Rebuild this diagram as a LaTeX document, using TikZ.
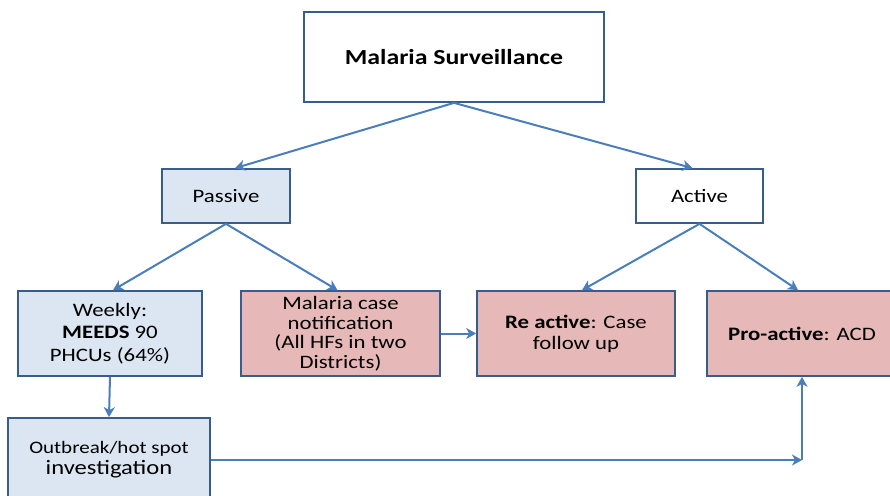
\documentclass[tikz,border=0pt]{standalone}
\usepackage{fontspec}
\setmainfont{Carlito}[FakeStretch=1.2]
\usetikzlibrary{arrows.meta,calc}
\definecolor{bord}{HTML}{385D8A}
\definecolor{arr}{HTML}{4A7EBB}
\definecolor{lblue}{HTML}{DCE6F2}
\definecolor{pinkbox}{HTML}{E6B9B8}
\tikzset{
  box/.style={draw=bord, line width=1.7pt, rectangle, align=center, inner sep=0pt,
    font=\fontsize{19}{21}\selectfont},
  conn/.style={draw=arr, line width=2pt, -{Stealth[length=10pt,width=11pt,inset=3pt]}}
}
\begin{document}
\begin{tikzpicture}[x=1pt,y=-1pt]
\useasboundingbox (0,0) rectangle (890,495);
\clip (0,0) rectangle (890,495);
\node[box, fill=white, minimum width=300pt, minimum height=90pt,
      font=\fontsize{21.5}{24}\selectfont\bfseries] (main) at (454,57) {Malaria Surveillance};
\node[box, fill=lblue, minimum width=128pt, minimum height=54pt] (passive) at (226,196) {Passive};
\node[box, fill=white, minimum width=127pt, minimum height=54pt] (active) at (699.5,196) {Active};
\node[box, fill=lblue, minimum width=184pt, minimum height=85pt,
      font=\fontsize{19}{22.5}\selectfont] (weekly) at (110,333.5) {Weekly:\\\textbf{MEEDS} 90\\PHCUs (64\%)};
\node[box, fill=pinkbox, minimum width=199pt, minimum height=85pt,
      font=\fontsize{19}{19.5}\selectfont] (mcase) at (340.5,333.5) {Malaria case\\notification\\(All HFs in two\\Districts)};
\node[box, fill=pinkbox, minimum width=198pt, minimum height=85pt] (react) at (576,333.5) {\textbf{Re active}: Case\\follow up};
\node[box, fill=pinkbox, minimum width=190pt, minimum height=85pt] (pro) at (802,333.5) {\textbf{Pro-active}: ACD};
\node[box, fill=lblue, minimum width=202pt, minimum height=84pt] (outb) at (109,460)
  {{\fontsize{17.5}{21}\selectfont Outbreak/hot spot}\\{\fontsize{20.5}{22}\selectfont investigation}};
\coordinate (corner) at (outb.east -| pro.south);
\draw[conn] (main.south) -- ($(passive.north)+(9,0)$);
\draw[conn] (main.south) -- ($(active.north)+(-7,0)$);
\draw[conn] (passive.south) -- ($(weekly.north)+(3,0)$);
\draw[conn] (passive.south) -- ($(mcase.north)+(-3,0)$);
\draw[conn] (active.south) -- ($(react.north)+(6,0)$);
\draw[conn] (active.south) -- ($(pro.north)+(-4,0)$);
\draw[conn] (weekly.south) -- (outb.north);
\draw[conn] (mcase.east) -- (react.west);
\draw[conn] (outb.east) -- (corner);
\draw[conn] (corner) -- (pro.south);
\end{tikzpicture}
\end{document}
